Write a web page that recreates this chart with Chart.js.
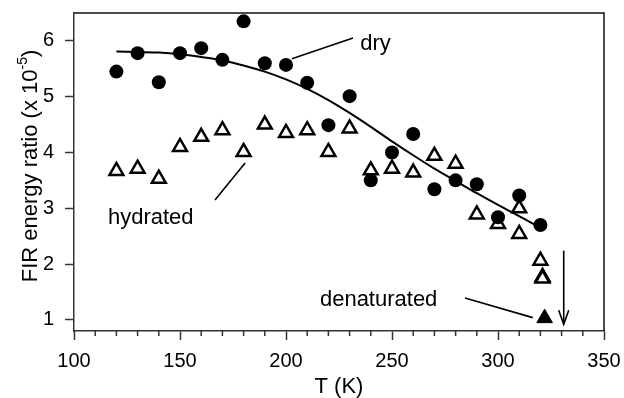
<!DOCTYPE html>
<html>
<head>
<meta charset="utf-8">
<script src="https://cdn.jsdelivr.net/npm/chart.js@4.4.1/dist/chart.umd.min.js"></script>
<style>
  body { margin: 0; background: #fff; }
  #wrap { width: 624px; height: 398px; }
</style>
</head>
<body>
<div id="wrap"><canvas id="firChart" width="624" height="398"></canvas></div>
<script>
// data
const dryT     = [120, 130, 140, 150, 160, 170, 180, 190, 200, 210, 220, 230, 240, 250, 260, 270, 280, 290, 300, 310, 320];
const dryRatio = [5.45, 5.78, 5.26, 5.78, 5.87, 5.66, 6.35, 5.60, 5.57, 5.25, 4.49, 5.01, 3.50, 4.00, 4.33, 3.34, 3.50, 3.43, 2.84, 3.23, 2.70];

const hydT     = [120, 130, 140, 150, 160, 170, 180, 190, 200, 210, 220, 230, 240, 250, 260, 270, 280, 290, 300, 310, 310, 320, 321, 321];
const hydRatio = [3.67, 3.71, 3.53, 4.10, 4.28, 4.40, 4.01, 4.50, 4.35, 4.40, 4.01, 4.43, 3.68, 3.71, 3.64, 3.94, 3.80, 2.89, 2.72, 3.00, 2.54, 2.06, 1.77, 1.74];

const denT     = [322];
const denRatio = [1.03];

// fitted curve through the dry points
const fitT     = [120, 130, 140, 150, 160, 170, 180, 190, 200, 210, 220, 230, 240, 250, 260, 270, 280, 290, 300, 310, 318];
const fitRatio = [5.81, 5.80, 5.79, 5.76, 5.71, 5.65, 5.56, 5.45, 5.31, 5.14, 4.94, 4.71, 4.46, 4.20, 3.95, 3.71, 3.49, 3.27, 3.06, 2.86, 2.69];

const xTicks = [100, 150, 200, 250, 300, 350];
const yTicks = [1, 2, 3, 4, 5, 6];

// labels with their pointer lines (data coordinates)
const notes = [
   { text: 'dry',         tx: 235, ty: 5.84, from: [202.8, 5.68], to: [231.6, 6.05] },
   { text: 'hydrated',    tx: 116, ty: 2.71, from: [180.7, 3.81], to: [166.5, 3.15] },
   { text: 'denaturated', tx: 216, ty: 1.24, from: [284.4, 1.39], to: [316.4, 1.04] }
];
const arrowT = 331, arrowTop = 2.24, arrowBottom = 0.92;

const FONT = '"Liberation Sans", Arial, Helvetica, sans-serif';
const toXY = (xs, ys) => xs.map((x, i) => ({ x: x, y: ys[i] }));

const extrasPlugin = {
   id: 'extras',
   afterDraw(chart) {
      const c = chart.ctx;
      const xs = chart.scales.x, ys = chart.scales.y;
      const a = chart.chartArea;
      const px = v => xs.getPixelForValue(v);
      const py = v => ys.getPixelForValue(v);

      c.save();
      // frame top and right
      c.strokeStyle = '#111';
      c.lineWidth = 1.5;
      c.beginPath();
      c.moveTo(a.left, a.top);
      c.lineTo(a.right, a.top);
      c.lineTo(a.right, a.bottom);
      c.stroke();

      // minor x ticks every 10
      c.strokeStyle = '#333';
      c.lineWidth = 1.5;
      c.beginPath();
      for (let t = 110; t < 350; t += 10) {
         if (t % 50 === 0) continue;
         c.moveTo(px(t), a.bottom);
         c.lineTo(px(t), a.bottom + 5);
      }
      c.stroke();

      // pointer lines and labels
      c.strokeStyle = '#000';
      c.lineWidth = 1.6;
      c.fillStyle = '#000';
      c.font = '22px ' + FONT;
      c.textBaseline = 'alphabetic';
      notes.forEach(n => {
         c.beginPath();
         c.moveTo(px(n.from[0]), py(n.from[1]));
         c.lineTo(px(n.to[0]), py(n.to[1]));
         c.stroke();
         c.fillText(n.text, px(n.tx), py(n.ty));
      });

      // arrow
      const ax = px(arrowT), ay0 = py(arrowTop), ay1 = py(arrowBottom);
      c.beginPath();
      c.moveTo(ax, ay0);
      c.lineTo(ax, ay1 - 2);
      c.stroke();
      c.beginPath();
      c.moveTo(ax - 5, ay1 - 14);
      c.lineTo(ax, ay1);
      c.lineTo(ax + 5, ay1 - 14);
      c.stroke();

      // x title
      c.textAlign = 'center';
      c.fillText('T (K)', (a.left + a.right) / 2, 393);

      // y title with superscript
      const main = 'FIR energy ratio (x 10', sup = '-5', tail = ')';
      c.font = '22px ' + FONT;
      const w1 = c.measureText(main).width, w3 = c.measureText(tail).width;
      c.font = '14px ' + FONT;
      const w2 = c.measureText(sup).width;
      const W = w1 + w2 + w3;
      c.translate(37, 166);
      c.rotate(-Math.PI / 2);
      c.textAlign = 'left';
      c.font = '22px ' + FONT;
      c.fillText(main, -W / 2, 0);
      c.font = '14px ' + FONT;
      c.fillText(sup, -W / 2 + w1, -10);
      c.font = '22px ' + FONT;
      c.fillText(tail, -W / 2 + w1 + w2, 0);
      c.restore();
   }
};

new Chart(document.getElementById('firChart'), {
   type: 'scatter',
   data: {
      datasets: [{
         label: 'fit',
         data: toXY(fitT, fitRatio),
         showLine: true,
         borderColor: '#000',
         borderWidth: 2,
         cubicInterpolationMode: 'monotone',
         pointRadius: 0
      }, {
         label: 'dry',
         data: toXY(dryT, dryRatio),
         pointStyle: 'circle',
         pointRadius: 7,
         backgroundColor: '#000',
         borderColor: '#000',
         borderWidth: 0
      }, {
         label: 'hydrated',
         data: toXY(hydT, hydRatio),
         pointStyle: 'triangle',
         pointRadius: 8,
         backgroundColor: '#fff',
         borderColor: '#000',
         borderWidth: 2.5
      }, {
         label: 'denaturated',
         data: toXY(denT, denRatio),
         pointStyle: 'triangle',
         pointRadius: 9,
         backgroundColor: '#000',
         borderColor: '#000',
         borderWidth: 1
      }]
   },
   options: {
      responsive: false,
      animation: false,
      layout: { padding: { top: 13, right: 20, left: 0, bottom: 0 } },
      plugins: { legend: { display: false }, tooltip: { enabled: false } },
      scales: {
         x: {
            type: 'linear',
            min: 100,
            max: 350,
            afterBuildTicks: s => { s.ticks = xTicks.map(v => ({ value: v })); },
            afterFit: s => { s.height = 67; s.paddingLeft = 0; s.paddingRight = 0; },
            border: { color: '#333', width: 1.5 },
            grid: { drawOnChartArea: false, tickLength: 9, tickColor: '#333', tickWidth: 1.5 },
            ticks: { color: '#000', font: { family: FONT, size: 20 }, padding: 9, autoSkip: false, maxRotation: 0 }
         },
         y: {
            type: 'linear',
            min: 0.8,
            max: 6.5,
            afterBuildTicks: s => { s.ticks = yTicks.map(v => ({ value: v })); },
            afterFit: s => { s.width = 74; s.paddingTop = 0; s.paddingBottom = 0; },
            border: { color: '#333', width: 1.5 },
            grid: { drawOnChartArea: false, tickLength: 9, tickColor: '#333', tickWidth: 1.5 },
            ticks: { color: '#000', font: { family: FONT, size: 20 }, padding: 11 }
         }
      }
   },
   plugins: [extrasPlugin]
});
</script>
</body>
</html>
